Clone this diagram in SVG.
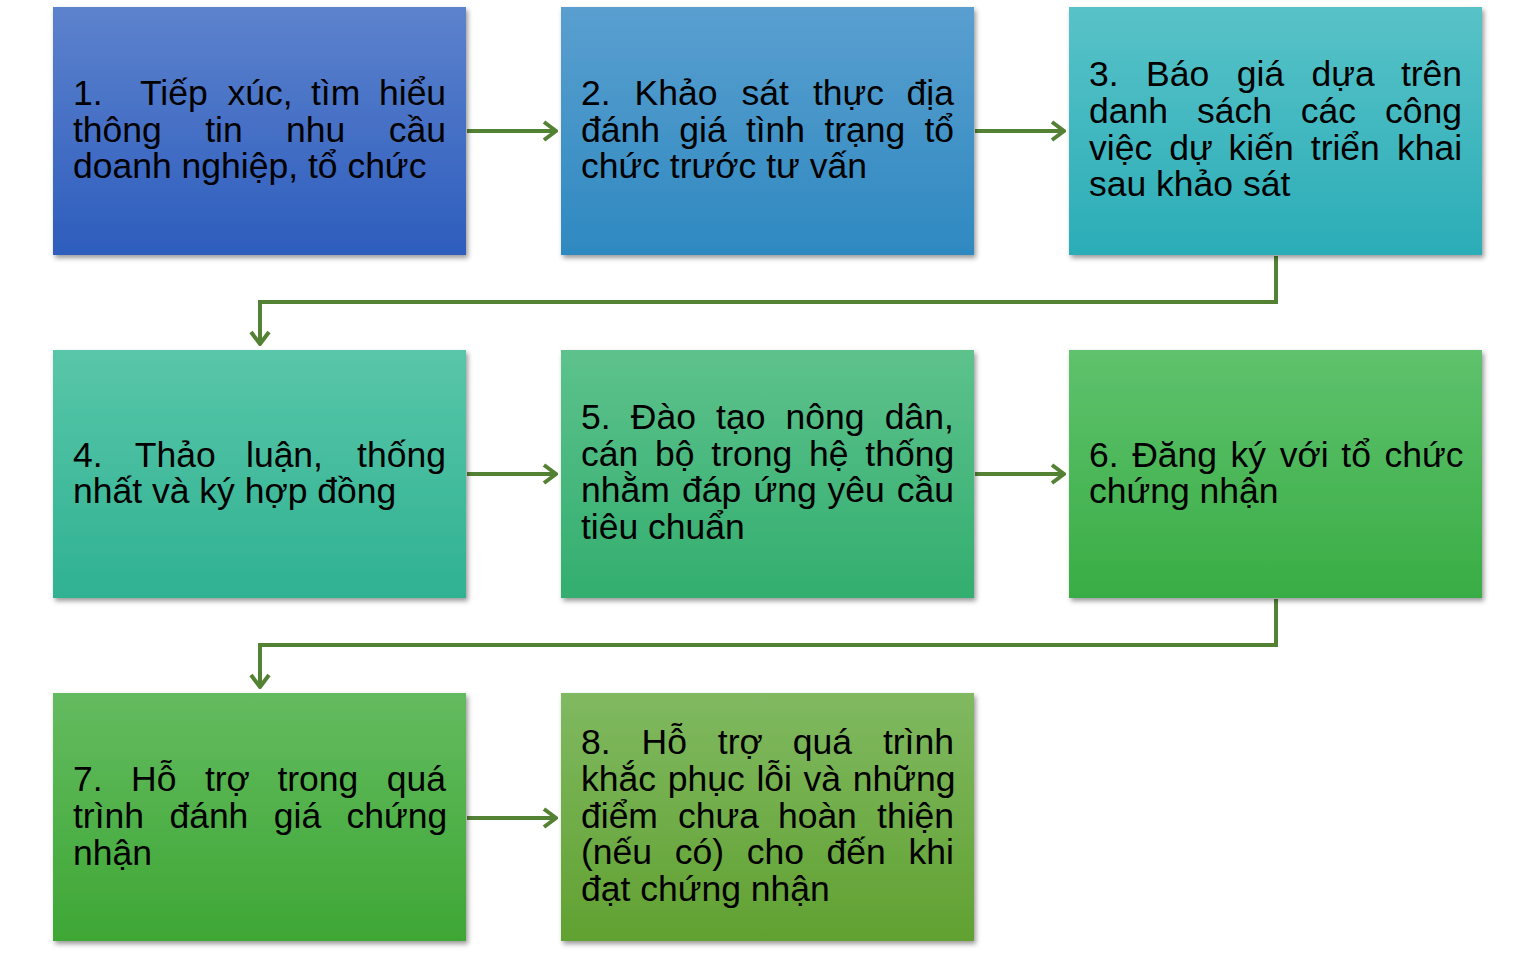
<svg xmlns="http://www.w3.org/2000/svg" width="1536" height="953" viewBox="0 0 1536 953">
<style>
  .box { stroke: none; filter: url(#sh); }
  .t { font-family: "Liberation Sans", Arial, sans-serif; font-size: 35.5px; fill: #000; }
  .c { fill: none; stroke: #548235; stroke-width: 4; }
</style>
<defs>
  <filter id="sh" x="-5%" y="-5%" width="115%" height="120%">
    <feDropShadow dx="2" dy="3" stdDeviation="2.5" flood-color="#000" flood-opacity="0.4"/>
  </filter>
  <marker id="ah" viewBox="0 0 16 22" refX="14" refY="11" markerWidth="16" markerHeight="22" markerUnits="userSpaceOnUse" orient="auto">
    <path d="M2,2 L14,11 L2,20" fill="none" stroke="#548235" stroke-width="4"/>
  </marker>
  <linearGradient id="g1" x1="0" y1="0" x2="0" y2="1"><stop offset="0" stop-color="#5d82cd"/><stop offset="1" stop-color="#2d5dbd"/></linearGradient>
  <linearGradient id="g2" x1="0" y1="0" x2="0" y2="1"><stop offset="0" stop-color="#5a9fd0"/><stop offset="1" stop-color="#2e89c0"/></linearGradient>
  <linearGradient id="g3" x1="0" y1="0" x2="0" y2="1"><stop offset="0" stop-color="#58c2c8"/><stop offset="1" stop-color="#2badb7"/></linearGradient>
  <linearGradient id="g4" x1="0" y1="0" x2="0" y2="1"><stop offset="0" stop-color="#59c6a9"/><stop offset="1" stop-color="#2fb292"/></linearGradient>
  <linearGradient id="g5" x1="0" y1="0" x2="0" y2="1"><stop offset="0" stop-color="#5dc28c"/><stop offset="1" stop-color="#33ae6f"/></linearGradient>
  <linearGradient id="g6" x1="0" y1="0" x2="0" y2="1"><stop offset="0" stop-color="#5fc26d"/><stop offset="1" stop-color="#39ad45"/></linearGradient>
  <linearGradient id="g7" x1="0" y1="0" x2="0" y2="1"><stop offset="0" stop-color="#64bb5f"/><stop offset="1" stop-color="#3ea735"/></linearGradient>
  <linearGradient id="g8" x1="0" y1="0" x2="0" y2="1"><stop offset="0" stop-color="#80b961"/><stop offset="1" stop-color="#61a131"/></linearGradient>
</defs>
<rect width="1536" height="953" fill="#fff"/>

<g id="connectors">
  <path class="c" d="M467,131 L556,131" marker-end="url(#ah)"/>
  <path class="c" d="M975,131 L1064,131" marker-end="url(#ah)"/>
  <path class="c" d="M1276,256 L1276,302 L260,302 L260,344" marker-end="url(#ah)"/>
  <path class="c" d="M467,474 L556,474" marker-end="url(#ah)"/>
  <path class="c" d="M975,474 L1064,474" marker-end="url(#ah)"/>
  <path class="c" d="M1276,599 L1276,645 L260,645 L260,687" marker-end="url(#ah)"/>
  <path class="c" d="M467,818 L556,818" marker-end="url(#ah)"/>
</g>

<g id="n1">
  <rect class="box" x="53" y="7" width="413" height="248" fill="url(#g1)"/>
  <text class="t"><tspan x="73" y="105">1.</tspan><tspan x="140" y="105">Tiếp</tspan><tspan x="227.5" y="105">xúc,</tspan><tspan x="311" y="105">tìm</tspan><tspan x="379" y="105">hiểu</tspan></text>
  <text class="t"><tspan x="73" y="142">thông</tspan><tspan x="205.2" y="142">tin</tspan><tspan x="286.1" y="142">nhu</tspan><tspan x="388.7" y="142">cầu</tspan></text>
  <text class="t" x="73" y="178">doanh nghiệp, tổ chức</text>
</g>

<g id="n2">
  <rect class="box" x="561" y="7" width="413" height="248" fill="url(#g2)"/>
  <text class="t"><tspan x="581" y="105">2.</tspan><tspan x="634.6" y="105">Khảo</tspan><tspan x="741.5" y="105">sát</tspan><tspan x="812.9" y="105">thực</tspan><tspan x="906.6" y="105">địa</tspan></text>
  <text class="t"><tspan x="581" y="142">đánh</tspan><tspan x="679.3" y="142">giá</tspan><tspan x="745.9" y="142">tình</tspan><tspan x="824.4" y="142">trạng</tspan><tspan x="924.5" y="142">tổ</tspan></text>
  <text class="t" x="581" y="178">chức trước tư vấn</text>
</g>

<g id="n3">
  <rect class="box" x="1069" y="7" width="413" height="248" fill="url(#g3)"/>
  <text class="t"><tspan x="1089" y="86">3.</tspan><tspan x="1146.1" y="86">Báo</tspan><tspan x="1236.8" y="86">giá</tspan><tspan x="1311.6" y="86">dựa</tspan><tspan x="1400.9" y="86">trên</tspan></text>
  <text class="t"><tspan x="1089" y="123">danh</tspan><tspan x="1196.9" y="123">sách</tspan><tspan x="1300.8" y="123">các</tspan><tspan x="1384.9" y="123">công</tspan></text>
  <text class="t"><tspan x="1089" y="160">việc</tspan><tspan x="1169.3" y="160">dự</tspan><tspan x="1228.5" y="160">kiến</tspan><tspan x="1310.8" y="160">triển</tspan><tspan x="1397" y="160">khai</tspan></text>
  <text class="t" x="1089" y="196">sau khảo sát</text>
</g>

<g id="n4">
  <rect class="box" x="53" y="350" width="413" height="248" fill="url(#g4)"/>
  <text class="t"><tspan x="73" y="467">4.</tspan><tspan x="134.8" y="467">Thảo</tspan><tspan x="246" y="467">luận,</tspan><tspan x="357.1" y="467">thống</tspan></text>
  <text class="t" x="73" y="503">nhất và ký hợp đồng</text>
</g>

<g id="n5">
  <rect class="box" x="561" y="350" width="413" height="248" fill="url(#g5)"/>
  <text class="t"><tspan x="581" y="429">5.</tspan><tspan x="630.8" y="429">Đào</tspan><tspan x="716.1" y="429">tạo</tspan><tspan x="785.6" y="429">nông</tspan><tspan x="884.8" y="429">dân,</tspan></text>
  <text class="t"><tspan x="581" y="466">cán</tspan><tspan x="655" y="466">bộ</tspan><tspan x="711.3" y="466">trong</tspan><tspan x="809" y="466">hệ</tspan><tspan x="865.3" y="466">thống</tspan></text>
  <text class="t"><tspan x="581" y="502">nhằm</tspan><tspan x="682" y="502">đáp</tspan><tspan x="753.4" y="502">ứng</tspan><tspan x="827.4" y="502">yêu</tspan><tspan x="896.8" y="502">cầu</tspan></text>
  <text class="t" x="581" y="539">tiêu chuẩn</text>
</g>

<g id="n6">
  <rect class="box" x="1069" y="350" width="413" height="248" fill="url(#g6)"/>
  <text class="t"><tspan x="1089" y="467">6.</tspan><tspan x="1132.2" y="467">Đăng</tspan><tspan x="1230.6" y="467">ký</tspan><tspan x="1279.7" y="467">với</tspan><tspan x="1341.3" y="467">tổ</tspan><tspan x="1384.5" y="467">chức</tspan></text>
  <text class="t" x="1089" y="503">chứng nhận</text>
</g>

<g id="n7">
  <rect class="box" x="53" y="693" width="413" height="248" fill="url(#g7)"/>
  <text class="t"><tspan x="73" y="791">7.</tspan><tspan x="131" y="791">Hỗ</tspan><tspan x="204.9" y="791">trợ</tspan><tspan x="277.4" y="791">trong</tspan><tspan x="386.8" y="791">quá</tspan></text>
  <text class="t"><tspan x="73" y="828">trình</tspan><tspan x="169.4" y="828">đánh</tspan><tspan x="273.8" y="828">giá</tspan><tspan x="346.6" y="828">chứng</tspan></text>
  <text class="t" x="73" y="865">nhận</text>
</g>

<g id="n8">
  <rect class="box" x="561" y="693" width="413" height="248" fill="url(#g8)"/>
  <text class="t"><tspan x="581" y="754">8.</tspan><tspan x="641.5" y="754">Hỗ</tspan><tspan x="717.8" y="754">trợ</tspan><tspan x="792.8" y="754">quá</tspan><tspan x="882.9" y="754">trình</tspan></text>
  <text class="t"><tspan x="581" y="791">khắc</tspan><tspan x="667.7" y="791">phục</tspan><tspan x="756.4" y="791">lỗi</tspan><tspan x="803.6" y="791">và</tspan><tspan x="852.8" y="791">những</tspan></text>
  <text class="t"><tspan x="581" y="828">điểm</tspan><tspan x="678.1" y="828">chưa</tspan><tspan x="777.9" y="828">hoàn</tspan><tspan x="877.1" y="828">thiện</tspan></text>
  <text class="t"><tspan x="581" y="864">(nếu</tspan><tspan x="674.7" y="864">có)</tspan><tspan x="746.7" y="864">cho</tspan><tspan x="826.6" y="864">đến</tspan><tspan x="908.5" y="864">khi</tspan></text>
  <text class="t" x="581" y="901">đạt chứng nhận</text>
</g>
</svg>
